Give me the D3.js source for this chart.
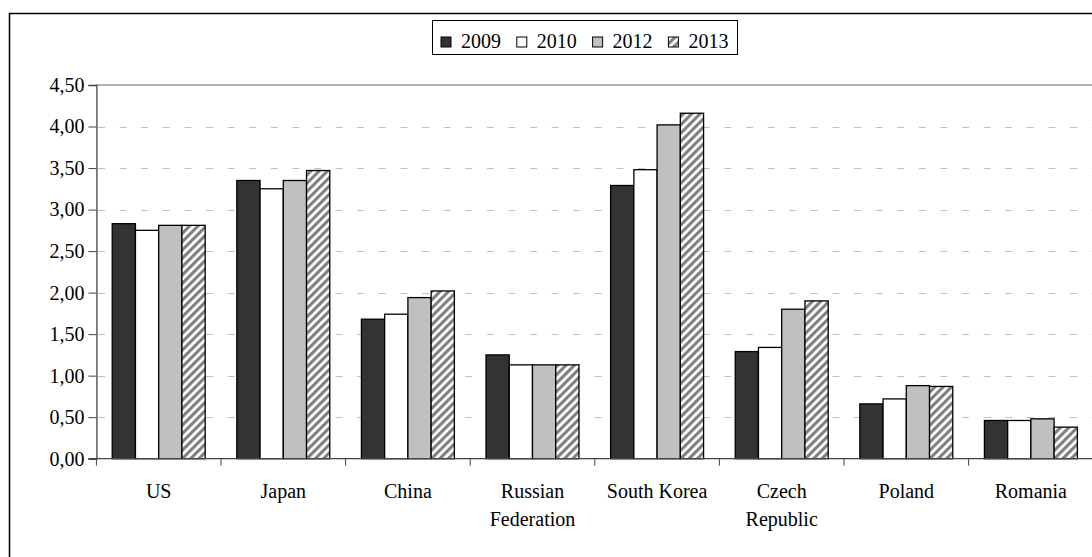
<!DOCTYPE html>
<html>
<head>
<meta charset="utf-8">
<script src="https://cdn.jsdelivr.net/npm/d3@7"></script>
<style>
  body { margin: 0; background: #fff; }
  svg text { font-family: "Liberation Serif", "DejaVu Serif", Tinos, "Times New Roman", Times, serif !important; }
</style>
</head>
<body>
<svg id="chart" width="1092" height="557"></svg>
<script>
const countries = ['US', 'Japan', 'China', 'Russian Federation', 'South Korea', 'Czech Republic', 'Poland', 'Romania'];
const years = ['2009', '2010', '2012', '2013'];
const v2009 = [2.83, 3.35, 1.68, 1.25, 3.29, 1.29, 0.66, 0.46];
const v2010 = [2.75, 3.25, 1.74, 1.13, 3.48, 1.34, 0.72, 0.46];
const v2012 = [2.81, 3.35, 1.94, 1.13, 4.02, 1.80, 0.88, 0.48];
const v2013 = [2.81, 3.47, 2.02, 1.13, 4.16, 1.90, 0.87, 0.38];
const yTicks = [0, 0.5, 1, 1.5, 2, 2.5, 3, 3.5, 4, 4.5];

const series = [v2009, v2010, v2012, v2013];
const fills = ['#333333', '#ffffff', '#c0c0c0', 'url(#hatch)'];

const margin = { left: 96.4, top: 85, bottom: 98.3 };
const plotRight = 1093.2;
const svg = d3.select('#chart');
const H = 557;
const serif = 'Liberation Serif';

const defs = svg.append('defs');
const pat = defs.append('pattern')
  .attr('id', 'hatch')
  .attr('patternUnits', 'userSpaceOnUse')
  .attr('width', 5.9)
  .attr('height', 5.9)
  .attr('patternTransform', 'rotate(45)');
pat.append('rect').attr('width', 5.9).attr('height', 5.9).attr('fill', '#fff');
pat.append('rect').attr('width', 3.1).attr('height', 5.9).attr('fill', '#808080');

// outer frame (runs off the right and bottom edges)
svg.append('rect')
  .attr('x', 9.5).attr('y', 13.5)
  .attr('width', 1200).attr('height', 700)
  .attr('fill', 'none')
  .attr('stroke', '#000')
  .attr('stroke-width', 1.5);

const x0 = d3.scaleBand()
  .domain(countries)
  .range([margin.left, plotRight]);

const x1 = d3.scaleBand()
  .domain(years)
  .range([x0.bandwidth() * 0.127, x0.bandwidth() * 0.873]);

const y = d3.scaleLinear()
  .domain([0, 4.5])
  .range([H - margin.bottom, margin.top]);

// gridlines
svg.append('g')
  .selectAll('line')
  .data(yTicks.filter(t => t > 0 && t < 4.5))
  .join('line')
    .attr('x1', margin.left + 1.6)
    .attr('x2', plotRight)
    .attr('y1', d => Math.round(y(d)) + 0.5)
    .attr('y2', d => Math.round(y(d)) + 0.5)
    .attr('stroke', '#c0c0c0')
    .attr('stroke-dasharray', '7,14.6');

// top edge of plot area
svg.append('line')
  .attr('x1', margin.left).attr('x2', plotRight)
  .attr('y1', y(4.5)).attr('y2', y(4.5))
  .attr('stroke', '#999')
  .attr('stroke-width', 1.5);

// bars
const groups = svg.append('g')
  .selectAll('g')
  .data(countries)
  .join('g')
    .attr('transform', d => `translate(${x0(d)},0)`);

groups.selectAll('rect')
  .data((c, i) => years.map((yr, j) => ({ yr, j, value: series[j][i] })))
  .join('rect')
    .attr('x', d => x1(d.yr))
    .attr('width', x1.bandwidth())
    .attr('y', d => y(d.value))
    .attr('height', d => y(0) - y(d.value))
    .attr('fill', d => fills[d.j])
    .attr('stroke', '#000')
    .attr('stroke-width', 1.3);

// y axis
const yAxis = d3.axisLeft(y)
  .tickValues(yTicks)
  .tickSize(8)
  .tickPadding(4)
  .tickFormat(d => d3.format('.2f')(d).replace('.', ','));

const yg = svg.append('g')
  .attr('transform', `translate(${margin.left},0)`)
  .call(yAxis)
  .attr('font-family', serif);
yg.select('.domain').attr('stroke', '#444').attr('stroke-width', 1.3);
yg.selectAll('.tick line').attr('stroke', '#444');
yg.selectAll('.tick text')
  .attr('fill', '#000')
  .attr('font-family', serif)
  .style('font-size', '20px');

// x axis: ticks at category boundaries
const xg = svg.append('g');
xg.append('line')
  .attr('x1', margin.left - 8).attr('x2', plotRight)
  .attr('y1', y(0)).attr('y2', y(0))
  .attr('stroke', '#444').attr('stroke-width', 1.3);
xg.selectAll('line.tk')
  .data(countries)
  .join('line')
    .attr('class', 'tk')
    .attr('x1', d => x0(d)).attr('x2', d => x0(d))
    .attr('y1', y(0)).attr('y2', y(0) + 7)
    .attr('stroke', '#444');

xg.selectAll('text')
  .data(countries)
  .join('text')
    .attr('x', d => x0(d) + x0.bandwidth() / 2)
    .attr('y', y(0) + 39)
    .attr('text-anchor', 'middle')
    .attr('font-family', serif)
    .style('font-size', '20px')
    .each(function (d) {
      const lines = (d === 'South Korea') ? [d] : d.split(' ');
      d3.select(this).selectAll('tspan')
        .data(lines)
        .join('tspan')
          .attr('x', x0(d) + x0.bandwidth() / 2)
          .attr('dy', (l, i) => (i === 0 ? 0 : 28))
          .text(l => l);
    });

// legend
const legend = svg.append('g');
legend.append('rect')
  .attr('x', 432.5).attr('y', 20.5)
  .attr('width', 305).attr('height', 34)
  .attr('fill', '#fff')
  .attr('stroke', '#000')
  .attr('stroke-width', 1);

const items = legend.selectAll('g.item')
  .data(years)
  .join('g')
    .attr('class', 'item')
    .attr('transform', (d, i) => `translate(${441 + i * 75.8},0)`);
items.append('rect')
  .attr('x', 0).attr('y', 37)
  .attr('width', 10).attr('height', 10)
  .attr('fill', (d, i) => fills[i])
  .attr('stroke', '#000');
items.append('text')
  .attr('x', 20).attr('y', 47.5)
  .attr('font-family', serif)
  .style('font-size', '20px')
  .text(d => d);
</script>
</body>
</html>
